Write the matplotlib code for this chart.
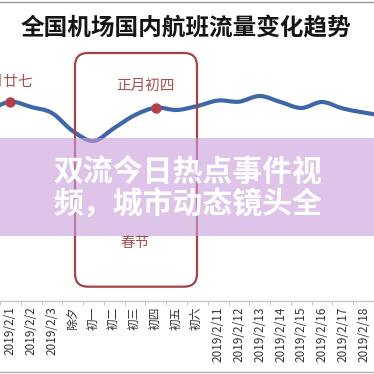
import matplotlib
matplotlib.use("Agg")
import matplotlib.pyplot as plt
import numpy as np
from matplotlib.path import Path
from matplotlib.patches import PathPatch, FancyBboxPatch, Rectangle

plt.rcParams['font.family'] = ['Noto Sans CJK SC', 'DejaVu Sans']

# ---- data ----
day_index = list(range(-1, 19))          # -1 = 2019/1/31 (cropped), 18 = 2019/2/19 (cropped)
flights = [14000, 14830, 14300, 13700, 11900, 10900, 12200, 13500, 14230, 14000,
           14400, 14950, 14830, 15400, 14800, 14200, 14800, 14150, 13750, 13400]
tick_labels = ["2019/2/1", "2019/2/2", "2019/2/3", "除夕", "初一", "初二", "初三", "初四",
               "初五", "初六", "2019/2/11", "2019/2/12", "2019/2/13", "2019/2/14",
               "2019/2/15", "2019/2/16", "2019/2/17", "2019/2/18"]
marked_days = [0, 7]
marked_labels = ["腊月廿七", "正月初四"]
title = "全国机场国内航班流量变化趋势"
overlay_lines = ["双流今日热点事件视", "频，城市动态镜头全"]

W = H = 374
fig = plt.figure(figsize=(3.74, 3.74), dpi=100)
fig.patch.set_facecolor("white")

# main data axes: bottom spine at pixel row 301
axis_row = 301
ax = fig.add_axes([0, (H - axis_row) / H, 1, axis_row / H])
ax.set_facecolor("none")
ax.set_xlim(-0.405, 17.405)
ax.set_ylim(-5100, 25000)
for s in ["top", "left", "right"]:
    ax.spines[s].set_visible(False)
ax.spines["bottom"].set_color("#c8c8c8")
ax.spines["bottom"].set_linewidth(1.0)
ax.set_yticks([])
ax.set_xticks(range(len(tick_labels)))
ax.set_xticklabels(tick_labels, rotation=90, fontsize=8.5, color="#333333")
ax.tick_params(axis="x", which="major", length=0, pad=4)
ax.set_xticks([i + 0.5 for i in range(-1, len(tick_labels))], minor=True)
ax.tick_params(axis="x", which="minor", length=3, color="#bbbbbb", direction="out")

# smooth (Bezier) line through data
pts = np.column_stack([day_index, flights]).astype(float)
verts = [tuple(pts[0])]
codes = [Path.MOVETO]
n = len(pts)
for i in range(n - 1):
    p0 = pts[i - 1] if i > 0 else pts[i]
    p1 = pts[i]
    p2 = pts[i + 1]
    p3 = pts[i + 2] if i + 2 < n else pts[i + 1]
    c1 = p1 + (p2 - p0) / 6.0
    c2 = p2 - (p3 - p1) / 6.0
    verts += [tuple(c1), tuple(c2), tuple(p2)]
    codes += [Path.CURVE4] * 3
ax.add_patch(PathPatch(Path(verts, codes), fill=False, edgecolor="#3f67a8",
                       linewidth=3.0, capstyle="round", joinstyle="round", zorder=2))
mx = [day_index[day_index.index(d)] for d in marked_days]
my = [flights[day_index.index(d)] for d in marked_days]
ax.plot(mx, my, "o", color="#b3404e", markersize=6.5, zorder=3)

# overlay axes in pixel coords (y down)
ov = fig.add_axes([0, 0, 1, 1])
ov.set_xlim(0, W)
ov.set_ylim(H, 0)
ov.axis("off")
ov.set_facecolor("none")

# frame lines
ov.plot([0, W], [1.7, 1.7], color="#9a9a9a", lw=1.0)
ov.plot([0, W], [371.7, 371.7], color="#b0b0b0", lw=1.0)

# title
ov.text(186, 28, title, ha="center", va="center", fontsize=17, fontweight="bold", color="#151515")

# rounded rectangle
ov.add_patch(FancyBboxPatch((75 + 13, 53 + 13), 122 - 26, 233.7 - 26,
                            boxstyle="round,pad=13", fill=False,
                            edgecolor="#a04548", linewidth=1.6, zorder=3))

# annotations
red = "#a85050"
ov.text(4, 82, marked_labels[0], ha="center", va="center", fontsize=10.5, color=red)
ov.text(146, 86, marked_labels[1], ha="center", va="center", fontsize=10.5, color=red)
ov.text(135, 243, "春节", ha="center", va="center", fontsize=10.5, color=red)

# purple band overlay
ov.add_patch(Rectangle((0, 138), W, 98, facecolor=(203/255, 157/255, 220/255),
                       alpha=0.6, edgecolor="none", zorder=5))
ov.text(53, 172, overlay_lines[0], ha="left", va="center", fontsize=21.5,
        fontweight="bold", color="white", zorder=6)
ov.text(53, 205, overlay_lines[1], ha="left", va="center", fontsize=21.5,
        fontweight="bold", color="white", zorder=6)

fig.savefig("out.png", dpi=100)
